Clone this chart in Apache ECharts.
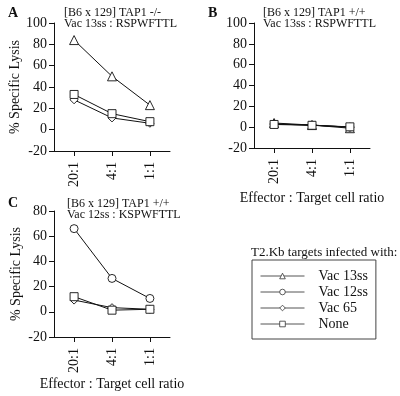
<!DOCTYPE html>
<html>
<head>
<meta charset="utf-8">
<script src="https://cdn.jsdelivr.net/npm/echarts@6/dist/echarts.min.js"></script>
<style>
  html, body { margin: 0; padding: 0; background: #fff; }
  #chart { width: 400px; height: 396px; }
</style>
</head>
<body>
<div id="chart"></div>
<script>
// ratios on the x axis, drawn at positions 0, 1, 2
const categories = ['20:1', '4:1', '1:1'];
const xPos = [0, 1, 2];

const seriesNames = ['Vac 13ss', 'Vac 12ss', 'Vac 65', 'None'];
const symbols = {
  'Vac 13ss': 'triangle',
  'Vac 12ss': 'circle',
  'Vac 65': 'diamond',
  'None': 'rect'
};
const symbolSizes = { 'Vac 13ss': 9, 'Vac 12ss': 8, 'Vac 65': 8, 'None': 8 };

// Panel A: [B6 x 129] TAP1 -/-, Vac 13ss : RSPWFTTL
const aVac13ss = [84, 50, 23];
const aVac65 = [28, 11, 6];
const aNone = [33, 15, 7.5];

// Panel B: [B6 x 129] TAP1 +/+, Vac 13ss : RSPWFTTL
const bVac13ss = [4, 2, -1];
const bVac12ss = [3, 2, 0];
const bVac65 = [3, 2, 0];
const bNone = [2.6, 1.8, 0.3];

// Panel C: [B6 x 129] TAP1 +/+, Vac 12ss : KSPWFTTL
const cVac12ss = [66, 26.5, 10.6];
const cVac65 = [9.3, 3.3, 2];
const cNone = [12, 1.3, 2];

const ink = '#111';
const serif = '"Liberation Serif", "DejaVu Serif", serif';

function pairs(vals) {
  return xPos.map((x, i) => [x, vals[i]]);
}

function xAxisFor(gridIndex, withName, nameGap) {
  return {
    type: 'value',
    gridIndex,
    min: -0.53,
    max: 2.53,
    name: withName ? 'Effector : Target cell ratio' : '',
    nameLocation: 'middle',
    nameGap,
    nameTextStyle: { fontFamily: serif, fontSize: 14, color: ink },
    axisLine: { onZero: false, lineStyle: { color: ink, width: 1 } },
    axisTick: { show: true, customValues: xPos, length: 5, lineStyle: { color: ink } },
    axisLabel: {
      customValues: xPos,
      rotate: 90,
      margin: 11,
      fontFamily: serif,
      fontSize: 14,
      color: ink,
      formatter: v => categories[Math.round(v)]
    },
    splitLine: { show: false }
  };
}

function yAxisFor(gridIndex, max) {
  return {
    type: 'value',
    gridIndex,
    min: -20,
    max,
    interval: 20,
    name: gridIndex === 1 ? '' : '% Specific Lysis',
    nameLocation: 'middle',
    nameRotate: 90,
    nameGap: 31,
    nameTextStyle: { fontFamily: serif, fontSize: 14, color: ink },
    axisLine: { show: true, onZero: false, lineStyle: { color: ink, width: 1 } },
    axisTick: { show: true, length: 5, lineStyle: { color: ink } },
    axisLabel: { margin: 7, fontFamily: serif, fontSize: 14, color: ink },
    splitLine: { show: false }
  };
}

function line(name, vals, idx) {
  return {
    type: 'line',
    name,
    xAxisIndex: idx,
    yAxisIndex: idx,
    data: pairs(vals),
    symbol: symbols[name],
    symbolSize: symbolSizes[name],
    showAllSymbol: true,
    lineStyle: { color: ink, width: 1 },
    itemStyle: { color: '#fff', borderColor: ink, borderWidth: 0.9 },
    emphasis: { disabled: true },
    animation: false
  };
}

const panelTitle = (text, left, top) => ({
  text,
  left,
  top,
  textStyle: { fontFamily: serif, fontSize: 12, fontWeight: 'normal', color: ink, lineHeight: 11.5 }
});

const panelLetter = (text, left, top) => ({
  text,
  left,
  top,
  textStyle: { fontFamily: serif, fontSize: 14, fontWeight: 'bold', color: ink }
});

const chart = echarts.init(document.getElementById('chart'), null, { renderer: 'canvas' });

chart.setOption({
  backgroundColor: '#fff',
  animation: false,
  title: [
    panelLetter('A', 3, 1),
    panelLetter('B', 203, 1),
    panelLetter('C', 3, 191),
    panelTitle('[B6 x 129] TAP1 -/-\nVac 13ss : RSPWFTTL', 59, 2),
    panelTitle('[B6 x 129] TAP1 +/+\nVac 13ss : RSPWFTTL', 258, 2),
    panelTitle('[B6 x 129] TAP1 +/+\nVac 12ss : KSPWFTTL', 62, 193),
    {
      text: 'T2.Kb targets infected with:',
      left: 246,
      top: 241,
      textStyle: { fontFamily: serif, fontSize: 13, fontWeight: 'normal', color: ink }
    }
  ],
  grid: [
    { left: 54, top: 23, width: 116, height: 128 },
    { left: 254, top: 23, width: 116, height: 125 },
    { left: 54, top: 211, width: 116, height: 126 }
  ],
  xAxis: [xAxisFor(0, false, 0), xAxisFor(1, true, 43), xAxisFor(2, true, 40)],
  yAxis: [yAxisFor(0, 100), yAxisFor(1, 100), yAxisFor(2, 80)],
  legend: {
    data: seriesNames,
    orient: 'vertical',
    left: 252,
    top: 260,
    padding: [9, 8, 8, 8],
    itemGap: 2,
    itemWidth: 44,
    itemHeight: 7,
    selectedMode: false,
    borderColor: '#444',
    borderWidth: 1,
    lineStyle: { color: '#555', width: 1 },
    itemStyle: { color: '#fff', borderColor: '#333', borderWidth: 0.8 },
    textStyle: { fontFamily: serif, fontSize: 14, color: ink, padding: [0, 0, 0, 9] }
  },
  series: [
    line('Vac 13ss', aVac13ss, 0),
    line('Vac 65', aVac65, 0),
    line('None', aNone, 0),
    line('Vac 13ss', bVac13ss, 1),
    line('Vac 12ss', bVac12ss, 1),
    line('Vac 65', bVac65, 1),
    line('None', bNone, 1),
    line('Vac 12ss', cVac12ss, 2),
    line('Vac 65', cVac65, 2),
    line('None', cNone, 2)
  ]
});
</script>
</body>
</html>
